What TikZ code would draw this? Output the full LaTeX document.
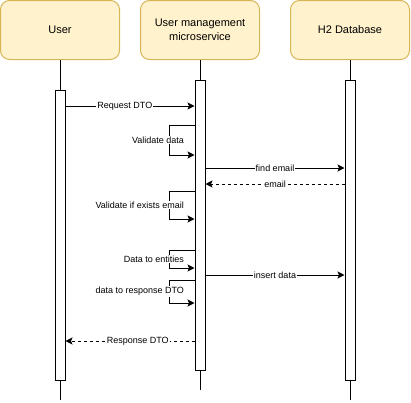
\documentclass[tikz,border=0pt]{standalone}
\usepackage{fontspec}
\setmainfont{Liberation Sans}
\usetikzlibrary{arrows.meta}
\definecolor{headfill}{HTML}{FFF2CC}
\definecolor{headdraw}{HTML}{D6B656}
\tikzset{
 head/.style={draw=headdraw, fill=headfill, rounded corners=9pt, minimum width=119pt, minimum height=59pt, align=center, font=\fontsize{11}{14}\selectfont},
 bar/.style={draw, fill=white, minimum width=10pt, inner sep=0pt},
 msg/.style={-{Stealth[length=7pt,width=7pt,inset=1.5pt]}},
 reply/.style={msg, dash pattern=on 3pt off 3pt},
 lbl/.style={fill=white, inner sep=1pt, font=\fontsize{9}{11}\selectfont}
}

\begin{document}
\begin{tikzpicture}[x=1pt, y=-1pt, line width=1pt]
\useasboundingbox (0,0) rectangle (411,402);
% participants and lifelines
\foreach \n/\x/\e/\t in {user/60/400/User, ms/200/390/{User management\\microservice}, db/350/400/H2 Database} {
 \node[head] (\n) at (\x,30) {\t};
 \coordinate (\n end) at (\x,\e);
 \draw (\n) -- (\n end);
}
% activation bars
\node[bar, minimum height=290pt] (ubar) at (60,235) {};
\node[bar, minimum height=290pt] (mbar) at (200,225) {};
\node[bar, minimum height=300pt] (dbar) at (350,230) {};
% messages
\draw[msg] (ubar.east |- 0,106) -- node[lbl, pos=.46] {Request DTO} (mbar.west |- 0,106);
\draw[msg] (mbar.east |- 0,168) -- node[lbl] {find email} (dbar.west |- 0,168);
\draw[reply] (dbar.west |- 0,184) -- node[lbl] {email} (mbar.east |- 0,184);
\draw[msg] (mbar.east |- 0,275) -- node[lbl] {insert data} (dbar.west |- 0,275);
\draw[reply] (mbar.west |- 0,341) -- node[lbl, pos=.44] {Response DTO} (ubar.east |- 0,341);
% self calls
\foreach \a/\b/\t in {125/155/Validate data, 191/219/Validate if exists email, 250/268/Data to entities, 280/303/data to response DTO}
 \draw[msg] (mbar.west |- 0,\a) -- ++(-25,0) -- node[lbl, anchor=east, xshift=16pt] {\t} ++(0,{\b-\a}) -- (mbar.west |- 0,\b);
\end{tikzpicture}
\end{document}
